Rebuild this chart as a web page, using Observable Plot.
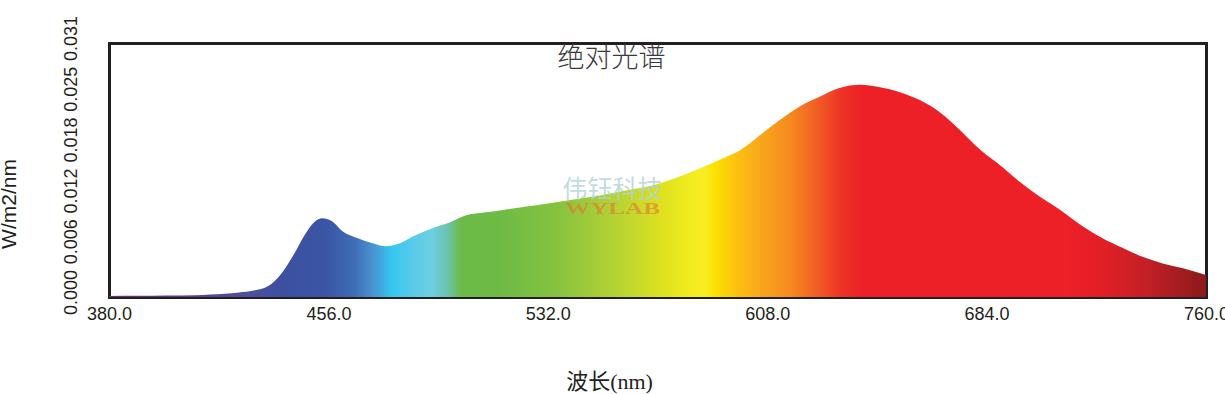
<!DOCTYPE html>
<html>
<head>
<meta charset="utf-8">
<script src="https://cdn.jsdelivr.net/npm/d3@7"></script>
<script src="https://cdn.jsdelivr.net/npm/@observablehq/plot@0.6"></script>
<style>
  html, body { margin: 0; padding: 0; background: #fff; }
  #chart svg { display: block; }
</style>
</head>
<body>
<div id="chart"></div>
<script>
// ---- data ----
const wavelengths = [380, 390, 400, 410, 415, 420, 425, 430, 435, 440, 444, 448, 451, 454, 457, 461, 466, 471, 476, 481, 486, 492, 498, 504, 510, 516, 524, 532, 541, 550, 559, 568, 576, 584, 592, 599, 606, 612, 619, 626, 633, 640, 647, 654, 661, 668, 675, 682, 689, 696, 703, 710, 717, 724, 731, 738, 745, 752, 760];
const irradiance = [0.00012, 0.00015, 0.00018, 0.00022, 0.0003, 0.0004, 0.00055, 0.00078, 0.0013, 0.003, 0.0052, 0.0077, 0.0091, 0.0096, 0.0093, 0.0080, 0.0072, 0.0066, 0.0062, 0.0066, 0.0075, 0.0084, 0.0091, 0.0100, 0.0103, 0.0106, 0.0110, 0.0114, 0.0119, 0.0124, 0.0130, 0.0136, 0.0145, 0.0156, 0.0168, 0.0180, 0.0199, 0.0215, 0.0232, 0.0244, 0.0255, 0.0259, 0.0256, 0.0250, 0.0240, 0.0225, 0.0203, 0.0179, 0.0160, 0.0139, 0.0121, 0.0105, 0.0087, 0.0072, 0.0060, 0.0049, 0.0041, 0.0035, 0.0027];

const xTicks = [380, 456, 532, 608, 684, 760];
const xTickLabels = ["380.0", "456.0", "532.0", "608.0", "684.0", "760.0"];
const yTicks = [0, 0.0062, 0.0124, 0.0186, 0.0248, 0.031];
const yTickLabels = ["0.000", "0.006", "0.012", "0.018", "0.025", "0.031"];

// spectrum colour stops: wavelength -> colour
const stopWavelengths = [380, 405, 425, 440, 455, 465, 471, 478, 486, 492, 497, 502, 515, 535, 555, 572, 582, 586, 590, 597, 606, 616, 626, 634, 642, 712, 725, 740, 760];
const stopColors = ["#6b2d7e", "#5a3f95", "#544c9e", "#3d50a0", "#3a55a4", "#3f6db5", "#4a90cf", "#36c6f2", "#5ccbe8", "#6dcfe0", "#6cc3b0", "#6cbb48", "#6dbb45", "#86c23f", "#b4d234", "#dfe21f", "#f2ec1f", "#f8ed24", "#fbe100", "#fdc20f", "#f9a61c", "#f5891f", "#f15a24", "#ed3125", "#ed1f27", "#ed1f27", "#e11f26", "#c21f26", "#8b1a1b"];

const title = "绝对光谱";
const xLabel = "波长(nm)";
const yLabel = "W/m2/nm";
const watermarkCN = "伟钰科技";
const watermarkEN = "WYLAB";

const data = wavelengths.map((w, i) => ({w, v: irradiance[i]}));

const SVGNS = "http://www.w3.org/2000/svg";
function gradientDefs(index, scales) {
  const defs = document.createElementNS(SVGNS, "defs");
  const g = document.createElementNS(SVGNS, "linearGradient");
  g.setAttribute("id", "spectrumGrad");
  g.setAttribute("gradientUnits", "userSpaceOnUse");
  const x0 = scales.x(wavelengths[0]);
  const x1 = scales.x(wavelengths[wavelengths.length - 1]);
  g.setAttribute("x1", x0); g.setAttribute("x2", x1);
  g.setAttribute("y1", 0); g.setAttribute("y2", 0);
  stopWavelengths.forEach((w, i) => {
    const s = document.createElementNS(SVGNS, "stop");
    s.setAttribute("offset", (scales.x(w) - x0) / (x1 - x0));
    s.setAttribute("stop-color", stopColors[i]);
    g.appendChild(s);
  });
  defs.appendChild(g);
  return defs;
}

const W = 1225, H = 394;
const mL = 109, mR = 19, mT = 43, mB = 97;
const frameCx = mL + (W - mL - mR) / 2;
const centerDx = 611 - frameCx;

const plot = Plot.plot({
  width: W,
  height: H,
  marginLeft: mL,
  marginRight: mR,
  marginTop: mT,
  marginBottom: mB,
  style: {fontFamily: "'Liberation Sans', Arial, sans-serif", fontSize: "18px", color: "#231f20", background: "#fff"},
  x: {domain: [380, 760]},
  y: {domain: [0, 0.031]},
  marks: [
    gradientDefs,
    Plot.frame({stroke: "#231f20", strokeWidth: 3}),
    Plot.areaY(data, {x: "w", y: "v", fill: "url(#spectrumGrad)", curve: "monotone-x"}),
    Plot.axisX({ticks: xTicks, tickFormat: d => xTickLabels[xTicks.indexOf(d)], tickSize: 0, tickPadding: 10, fontSize: 18, label: null}),
    Plot.axisY({ticks: yTicks, tickFormat: d => yTickLabels[yTicks.indexOf(d)], tickRotate: -90, tickSize: 0, tickPadding: 33, dy: -5, fontSize: 18, label: null}),
    Plot.text([title], {frameAnchor: "top", text: d => d, dx: centerDx, dy: 14.5, lineAnchor: "middle", fontSize: 27, fill: "#3a3a3a", fontFamily: "'Noto Sans CJK SC', sans-serif", fontWeight: 300}),
    Plot.text([watermarkCN], {frameAnchor: "top", text: d => d, dx: centerDx + 1, dy: 146, lineAnchor: "middle", fontSize: 25, fill: "#b0d2d8", fillOpacity: 0.8, fontFamily: "'Noto Sans CJK SC', sans-serif"}),
    Plot.text([watermarkEN], {frameAnchor: "top", text: d => d, dx: centerDx + 1, dy: 165, lineAnchor: "middle", fontSize: 17, fill: "#e3743a", fillOpacity: 0.6, fontFamily: "'Liberation Serif', serif", fontWeight: "bold", className: "wm-en"}),
    Plot.text([xLabel], {frameAnchor: "bottom", text: d => d, dx: centerDx - 2, dy: 84, lineAnchor: "middle", fontSize: 22, fill: "#231f20", fontFamily: "'Liberation Serif', 'Noto Sans CJK SC', serif"}),
    Plot.text([yLabel], {frameAnchor: "left", text: d => d, textAnchor: "middle", dx: -100, dy: 33.5, rotate: -90, lineAnchor: "middle", fontSize: 21, fill: "#231f20"})
  ]
});
d3.select(plot).selectAll(".wm-en text")
  .attr("textLength", 95)
  .attr("lengthAdjust", "spacingAndGlyphs");
document.getElementById("chart").appendChild(plot);
</script>
</body>
</html>
